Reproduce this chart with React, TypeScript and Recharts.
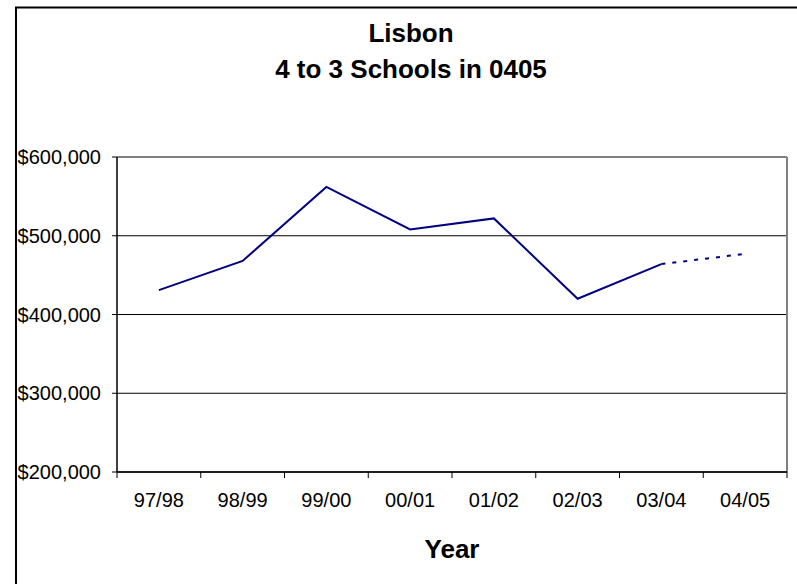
import { LineChart, Line, XAxis, YAxis, CartesianGrid, ReferenceLine } from "recharts";

const years = ["97/98", "98/99", "99/00", "00/01", "01/02", "02/03", "03/04", "04/05"];
const actual = [431000, 468000, 562000, 508000, 522000, 420000, 464000, null];
const projected = [null, null, null, null, null, null, 464000, 477000];
const yTicks = [200000, 300000, 400000, 500000, 600000];
const edgeTicks = [0, 1, 2, 3, 4, 5, 6, 7, 8];

const data = years.map((name, i) => ({ name, idx: i, actual: actual[i], projected: projected[i] }));

const font = "'Liberation Sans', Arial, sans-serif";
const money = (v: number) => `$${v.toLocaleString("en-US")}`;

export default function App() {
  return (
    <div style={{ position: "absolute", left: 0, top: 0, width: 797, height: 584, background: "#fff", fontFamily: font }}>
      <LineChart
        width={797}
        height={584}
        data={data}
        margin={{ top: 157, right: 10, bottom: 0, left: 0 }}
      >
        <CartesianGrid vertical={false} stroke="#000" strokeWidth={1} />
        {/* category boundary ticks, Excel style */}
        <XAxis
          xAxisId={0}
          type="number"
          dataKey="idx"
          domain={[0, 8]}
          allowDataOverflow
          ticks={edgeTicks}
          height={1}
          tickSize={6}
          tickFormatter={() => ""}
          axisLine={{ stroke: "#000", strokeWidth: 1.5 }}
          tickLine={{ stroke: "#000" }}
        />
        <XAxis
          xAxisId={1}
          dataKey="name"
          height={111}
          padding={{ left: 41.875, right: 41.875 }}
          axisLine={false}
          tickLine={false}
          tickSize={0}
          tickMargin={20}
          interval={0}
          tick={{ fill: "#000", fontSize: 20, fontFamily: font }}
          label={{ value: "Year", position: "insideBottom", offset: 26, fill: "#000", fontSize: 26, fontWeight: "bold", fontFamily: font }}
        />
        <YAxis
          width={117}
          domain={[200000, 600000]}
          ticks={yTicks}
          tickFormatter={money}
          tickSize={5}
          tickMargin={11}
          axisLine={{ stroke: "#000", strokeWidth: 1.5 }}
          tickLine={{ stroke: "#000" }}
          tick={{ fill: "#000", fontSize: 20, fontFamily: font }}
        />
        <ReferenceLine y={600000} stroke="#808080" strokeWidth={2} />
        <ReferenceLine x={8} xAxisId={0} stroke="#808080" strokeWidth={2} />
        <Line
          xAxisId={1}
          dataKey="actual"
          stroke="#000080"
          strokeWidth={2}
          dot={false}
          isAnimationActive={false}
        />
        <Line
          xAxisId={1}
          dataKey="projected"
          stroke="#000080"
          strokeWidth={2}
          strokeDasharray="4 7"
          dot={false}
          isAnimationActive={false}
        />
      </LineChart>
      <svg width={797} height={584} style={{ position: "absolute", left: 0, top: 0, pointerEvents: "none" }}>
        <path d="M16,584 V7.5 H797" fill="none" stroke="#000" strokeWidth={2} />
        <text x={411} y={42} textAnchor="middle" fontSize={26} fontWeight="bold" fontFamily={font}>Lisbon</text>
        <text x={411} y={78} textAnchor="middle" fontSize={26} fontWeight="bold" fontFamily={font}>4 to 3 Schools in 0405</text>
      </svg>
    </div>
  );
}
